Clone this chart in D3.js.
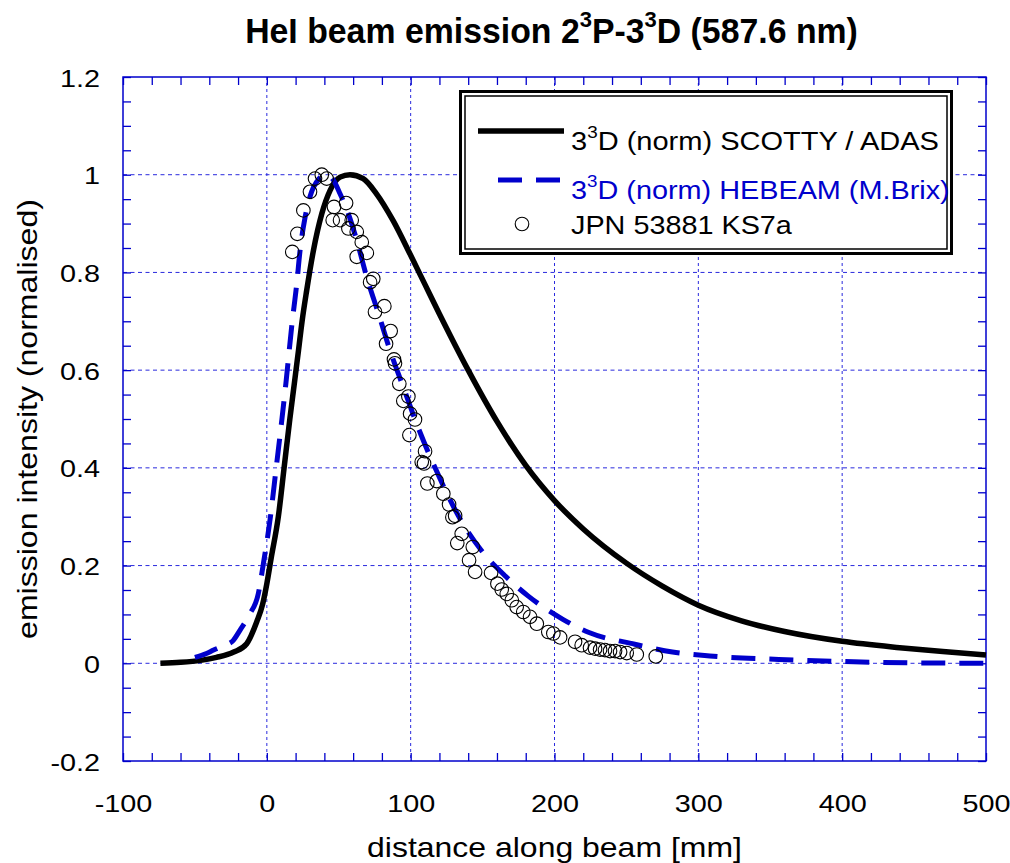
<!DOCTYPE html>
<html>
<head>
<meta charset="utf-8">
<script src="https://cdn.jsdelivr.net/npm/d3@7/dist/d3.min.js"></script>
<style>
  body { margin: 0; background: #fff; }
  text { font-family: "Liberation Sans", Arial, Helvetica, sans-serif; }
</style>
</head>
<body>
<div id="chart"></div>
<script>
// ---- data ----
var scottyX = [-74, -60, -46, -35, -23, -14, -7, -3, 0, 3, 8, 12, 16, 19, 22, 24.5, 27.7, 32.4, 38.2, 44, 50.9, 57.8, 67, 76, 88, 100, 110, 120, 140, 160, 180, 200, 220, 250, 275, 300, 330, 360, 400, 440, 470, 500];
var scottyY = [0, 0.002, 0.006, 0.012, 0.023, 0.04, 0.085, 0.12, 0.163, 0.215, 0.30, 0.40, 0.50, 0.57, 0.64, 0.70, 0.763, 0.845, 0.92, 0.968, 0.995, 1.0, 0.992, 0.962, 0.905, 0.835, 0.775, 0.715, 0.60, 0.495, 0.405, 0.333, 0.275, 0.205, 0.158, 0.119, 0.087, 0.065, 0.045, 0.032, 0.024, 0.017];

var hebeamX = [-50, -42, -37, -30, -23.3, -18.6, -12, -5.9, -2.4, 2.5, 6.5, 10.5, 13.5, 17.3, 20.8, 23.1, 26.6, 30, 35.8, 41.6, 46, 50.9, 56.7, 62.5, 69.5, 77.6, 85.7, 94.9, 104.2, 117, 134.7, 150.5, 166, 182, 205.8, 224, 255.8, 282, 308, 356, 408, 450, 500];
var hebeamY = [0.012, 0.02, 0.027, 0.036, 0.047, 0.068, 0.10, 0.143, 0.204, 0.30, 0.40, 0.50, 0.58, 0.69, 0.777, 0.845, 0.913, 0.955, 0.99, 1.0, 0.99, 0.961, 0.92, 0.866, 0.79, 0.716, 0.64, 0.565, 0.49, 0.40, 0.294, 0.226, 0.178, 0.137, 0.09, 0.063, 0.039, 0.023, 0.015, 0.008, 0.003, 0.001, 0.0];

var jpnX = [17.7, 21.2, 25.4, 30.0, 33.5, 38.2, 41.6, 46.7, 55.1, 45.8, 50.9, 59.0, 56.7, 62.5, 66.0, 69.5, 62.5, 74.0, 71.8, 75.2, 81.7, 86.1, 82.9, 88.4, 89.1, 92.1, 98.4, 94.9, 99.6, 103.0, 99.1, 110.0, 107.7, 109.3, 111.6, 118.1, 122.7, 126.7, 129.0, 130.9, 135.5, 132.4, 143.2, 140.6, 144.8, 155.9, 160.3, 163.3, 166.8, 170.3, 173.7, 178.3, 183.0, 187.7, 195.7, 199.2, 203.9, 214.3, 218.9, 224.7, 228.2, 231.7, 235.1, 238.6, 242.1, 245.6, 250.2, 257.2, 270.4];
var jpnY = [0.842, 0.879, 0.927, 0.965, 0.992, 1.0, 0.992, 0.934, 0.942, 0.907, 0.907, 0.907, 0.890, 0.883, 0.862, 0.840, 0.832, 0.787, 0.780, 0.719, 0.731, 0.680, 0.654, 0.622, 0.614, 0.572, 0.546, 0.537, 0.511, 0.499, 0.467, 0.434, 0.412, 0.409, 0.368, 0.373, 0.347, 0.325, 0.299, 0.302, 0.265, 0.246, 0.238, 0.211, 0.187, 0.185, 0.163, 0.151, 0.142, 0.129, 0.115, 0.105, 0.095, 0.081, 0.064, 0.061, 0.053, 0.044, 0.037, 0.032, 0.030, 0.028, 0.027, 0.025, 0.025, 0.023, 0.021, 0.018, 0.014];

var xTicks = [-100, 0, 100, 200, 300, 400, 500];
var yTicks = [-0.2, 0, 0.2, 0.4, 0.6, 0.8, 1, 1.2];

var BLUE = "#0000cc";
var W = 1010, H = 863;
var margin = {top: 77, right: 24, bottom: 102, left: 123},
    width = W - margin.left - margin.right,
    height = H - margin.top - margin.bottom;

var svg = d3.select("#chart").append("svg")
    .attr("width", W).attr("height", H);
svg.append("rect").attr("width", W).attr("height", H).attr("fill", "#fff");

var g = svg.append("g")
    .attr("transform", "translate(" + margin.left + "," + margin.top + ")");

var x = d3.scaleLinear().domain([-100, 500]).range([0, width]);
var y = d3.scaleLinear().domain([-0.2, 1.2]).range([height, 0]);

// text with superscripts, stretched horizontally to a width (or fixed factor)
function richText(parent, tx, ty, parts, o) {
  var wrap = parent.append("g");
  var t = wrap.append("text")
      .attr("font-size", o.fs)
      .attr("text-anchor", o.anchor || "start")
      .attr("font-weight", o.weight || "normal")
      .attr("fill", o.fill || "#000");
  var up = false;
  parts.forEach(function(p) {
    var ts = t.append("tspan").text(p[0]);
    if (p[1]) { ts.attr("font-size", o.fs * 0.65).attr("dy", -o.fs * 0.45); up = true; }
    else if (up) { ts.attr("dy", o.fs * 0.45); up = false; }
  });
  var sx = o.sx || 1;
  if (o.target) sx = o.target / t.node().getComputedTextLength();
  wrap.attr("transform", "translate(" + tx + "," + ty + ")" + (o.rotate ? " rotate(" + o.rotate + ")" : "") + " scale(" + sx + ",1)");
  return wrap;
}

// grid
g.append("g").selectAll("line")
  .data(xTicks.slice(1, -1)).enter().append("line")
    .attr("x1", d => x(d)).attr("x2", d => x(d))
    .attr("y1", 0).attr("y2", height)
    .attr("stroke", "#2a2add").attr("stroke-width", 1).attr("stroke-dasharray", "3,3");
g.append("g").selectAll("line")
  .data(yTicks.slice(1, -1)).enter().append("line")
    .attr("y1", d => y(d)).attr("y2", d => y(d))
    .attr("x1", 0).attr("x2", width)
    .attr("stroke", "#2a2add").attr("stroke-width", 1).attr("stroke-dasharray", "4,3.5");

// minor ticks on all four sides, pointing inward
var xMinor = d3.range(-100, 501, 20), yMinor = d3.range(-0.2, 1.2001, 0.05);
function tickAxis(axis, tr) {
  var a = g.append("g").attr("transform", tr).call(axis);
  a.select(".domain").remove();
  a.selectAll("line").attr("stroke", BLUE).attr("stroke-width", 1.3);
}
tickAxis(d3.axisBottom(x).tickValues(xMinor).tickSize(-8).tickFormat(""), "translate(0," + height + ")");
tickAxis(d3.axisTop(x).tickValues(xMinor).tickSize(-8).tickFormat(""), "translate(0,0)");
tickAxis(d3.axisLeft(y).tickValues(yMinor).tickSize(-8).tickFormat(""), "translate(0,0)");
tickAxis(d3.axisRight(y).tickValues(yMinor).tickSize(-8).tickFormat(""), "translate(" + width + ",0)");

// frame
g.append("rect").attr("width", width).attr("height", height)
  .attr("fill", "none").attr("stroke", BLUE).attr("stroke-width", 1.5);

// tick labels
var xl = g.append("g").attr("transform", "translate(0," + height + ")")
  .call(d3.axisBottom(x).tickValues(xTicks).tickSize(0).tickFormat(d => String(d)));
xl.select(".domain").remove();
xl.selectAll("text").attr("dy", null).attr("y", 0).attr("fill", "#000")
  .attr("font-size", 24).attr("font-family", null)
  .attr("transform", "translate(0,51) scale(1.2,1)");

var yl = g.append("g")
  .call(d3.axisLeft(y).tickValues(yTicks).tickSize(0).tickFormat(d => String(+d.toFixed(2))));
yl.select(".domain").remove();
yl.selectAll("text").attr("dy", null).attr("x", 0).attr("fill", "#000")
  .attr("font-size", 24).attr("font-family", null)
  .attr("transform", "translate(-23,9) scale(1.2,1)");

// curves
var line = d3.line().x(d => x(d[0])).y(d => y(d[1])).curve(d3.curveMonotoneX);

g.append("path").datum(d3.zip(scottyX, scottyY))
  .attr("d", line).attr("fill", "none")
  .attr("stroke", "#000").attr("stroke-width", 5.5);

g.append("path").datum(d3.zip(hebeamX, hebeamY))
  .attr("d", line).attr("fill", "none")
  .attr("stroke", BLUE).attr("stroke-width", 5).attr("stroke-dasharray", "24,14");

g.append("g").selectAll("circle")
  .data(d3.zip(jpnX, jpnY)).enter().append("circle")
    .attr("cx", d => x(d[0])).attr("cy", d => y(d[1])).attr("r", 6.8)
    .attr("fill", "none").attr("stroke", "#000").attr("stroke-width", 1.1);

// legend
var lg = svg.append("g");
lg.append("rect").attr("x", 460.5).attr("y", 91.5).attr("width", 491).attr("height", 162)
  .attr("fill", "#fff").attr("stroke", "#000").attr("stroke-width", 3);
lg.append("rect").attr("x", 465).attr("y", 96).attr("width", 482).attr("height", 153)
  .attr("fill", "none").attr("stroke", "#000").attr("stroke-width", 1.5);
lg.append("line").attr("x1", 478).attr("x2", 564).attr("y1", 131).attr("y2", 131)
  .attr("stroke", "#000").attr("stroke-width", 5.5);
lg.append("line").attr("x1", 498).attr("x2", 560).attr("y1", 180).attr("y2", 180)
  .attr("stroke", BLUE).attr("stroke-width", 5).attr("stroke-dasharray", "24,14");
lg.append("circle").attr("cx", 522).attr("cy", 224).attr("r", 6.8)
  .attr("fill", "none").attr("stroke", "#000").attr("stroke-width", 1.1);
richText(lg, 571, 150, [["3"], ["3", 1], ["D (norm) SCOTTY / ADAS"]], {fs: 26, target: 368});
richText(lg, 571, 199, [["3"], ["3", 1], ["D (norm) HEBEAM (M.Brix)"]], {fs: 26, target: 379, fill: BLUE});
richText(lg, 571, 234, [["JPN 53881 KS7a"]], {fs: 26, target: 221});

// titles
richText(svg, 551.5, 43, [["HeI beam emission 2"], ["3", 1], ["P-3"], ["3", 1], ["D (587.6 nm)"]],
  {fs: 35, weight: "bold", anchor: "middle", target: 613});
richText(svg, 554.5, 857, [["distance along beam [mm]"]], {fs: 27, anchor: "middle", target: 375});
richText(svg, 37, 419, [["emission intensity (normalised)"]], {fs: 27, anchor: "middle", target: 440, rotate: -90});
</script>
</body>
</html>
